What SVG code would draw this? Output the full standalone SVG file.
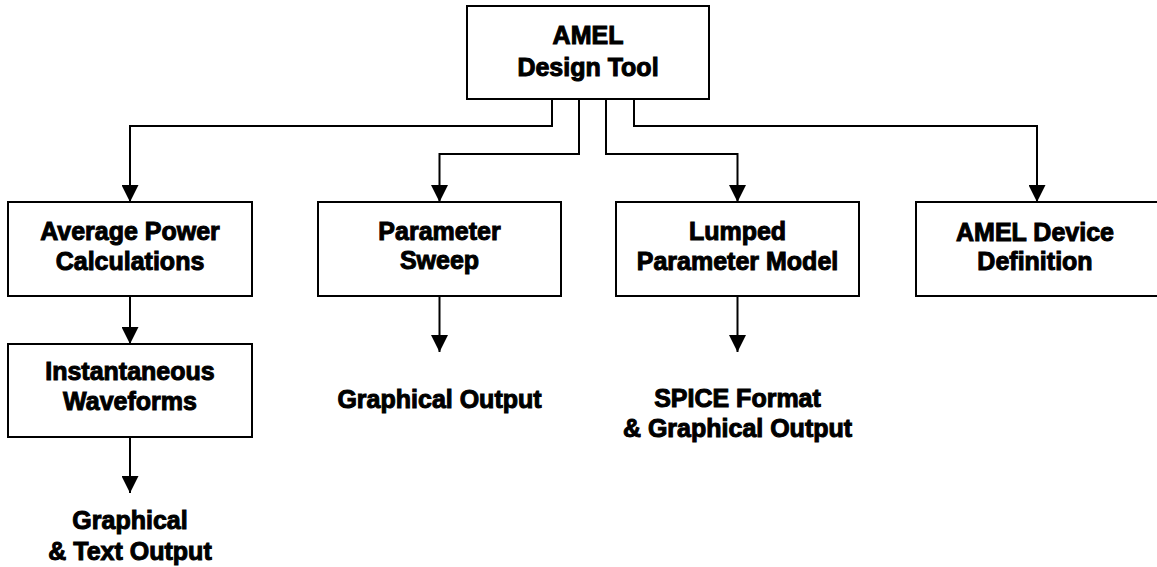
<svg xmlns="http://www.w3.org/2000/svg" width="1157" height="567" viewBox="0 0 1157 567">
<style>
.box{fill:#fff;stroke:#000;stroke-width:2}
.ln{fill:none;stroke:#000;stroke-width:2}
text{font-family:"Liberation Sans",Arial,sans-serif;font-weight:bold;font-size:25px;text-anchor:middle;fill:#000;stroke:#000;stroke-width:1}
</style>
<defs>
<marker id="ah" markerUnits="userSpaceOnUse" markerWidth="17" markerHeight="17" viewBox="0 0 17 17" refX="17" refY="8.5" orient="auto">
<path d="M0,0 L17,8.5 L0,17 Z" fill="#000"/>
</marker>
</defs>
<g id="connectors">
<path class="ln" d="M552,99 V126 H130 V202" marker-end="url(#ah)"/>
<path class="ln" d="M579,99 V154 H439.5 V202" marker-end="url(#ah)"/>
<path class="ln" d="M606,99 V154 H737.5 V202" marker-end="url(#ah)"/>
<path class="ln" d="M634,99 V126 H1037 V202" marker-end="url(#ah)"/>
<path class="ln" d="M130,296 V344" marker-end="url(#ah)"/>
<path class="ln" d="M439.5,296 V352" marker-end="url(#ah)"/>
<path class="ln" d="M737.5,296 V352" marker-end="url(#ah)"/>
<path class="ln" d="M130,437 V493" marker-end="url(#ah)"/>
</g>
<g id="amel-design-tool">
<rect class="box" x="467" y="6" width="242" height="93"/>
<text x="588" y="44">AMEL</text>
<text x="588" y="76">Design Tool</text>
</g>
<g id="average-power">
<rect class="box" x="8" y="202" width="244" height="94"/>
<text x="130" y="240">Average Power</text>
<text x="130" y="270">Calculations</text>
</g>
<g id="parameter-sweep">
<rect class="box" x="318" y="202" width="243" height="94"/>
<text x="439.5" y="240">Parameter</text>
<text x="439.5" y="269">Sweep</text>
</g>
<g id="lumped-model">
<rect class="box" x="616" y="202" width="243" height="94"/>
<text x="737.5" y="240">Lumped</text>
<text x="737.5" y="270">Parameter Model</text>
</g>
<g id="amel-device">
<rect class="box" x="916" y="202" width="250" height="94"/>
<text x="1035" y="241">AMEL Device</text>
<text x="1035" y="270">Definition</text>
</g>
<g id="instantaneous">
<rect class="box" x="8" y="344" width="244" height="93"/>
<text x="130" y="380">Instantaneous</text>
<text x="130" y="410">Waveforms</text>
</g>
<g id="graphical-text-output">
<text x="130" y="529">Graphical</text>
<text x="130" y="560">&amp; Text Output</text>
</g>
<g id="graphical-output">
<text x="439.5" y="408">Graphical Output</text>
</g>
<g id="spice-output">
<text x="737.5" y="407">SPICE Format</text>
<text x="737.5" y="437">&amp; Graphical Output</text>
</g>
</svg>
